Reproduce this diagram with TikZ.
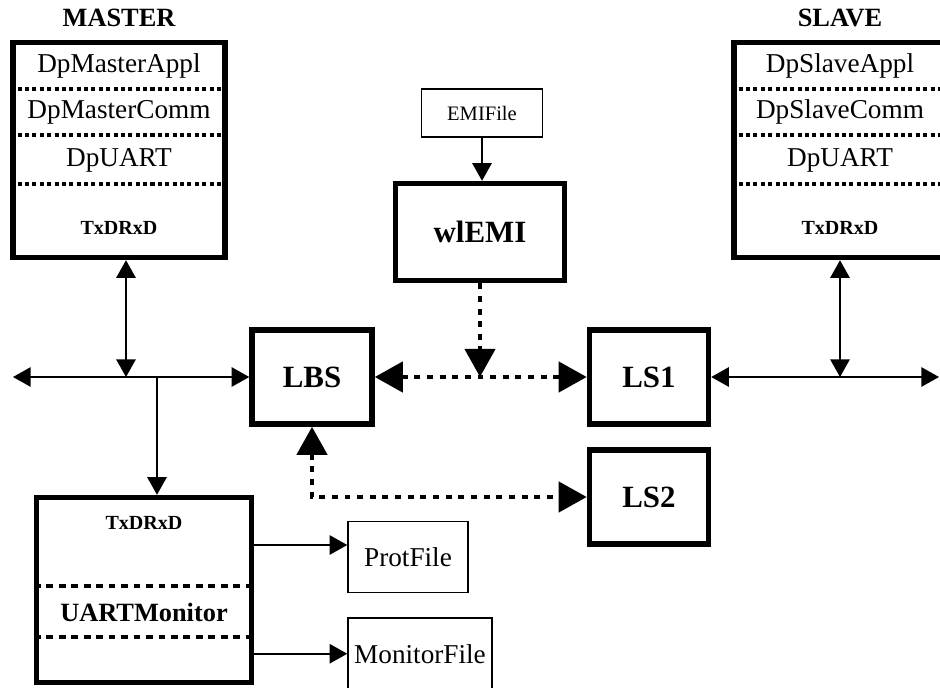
\documentclass[tikz,border=0pt]{standalone}
\usepackage{fontspec}
\setmainfont{Liberation Serif}
\usetikzlibrary{arrows.meta}

\begin{document}
\begin{tikzpicture}[
    x=0.02cm, y=-0.02cm,
    block/.style={draw, line width=3.1pt, inner sep=0pt},
    filebox/.style={draw, line width=0.85pt, inner sep=0pt},
    bigname/.style={font=\fontsize{17.6}{20}\selectfont\bfseries},
    title/.style={font=\fontsize{15}{18}\selectfont\bfseries},
    layer/.style={font=\fontsize{15.5}{18}\selectfont},
    pins/.style={font=\fontsize{11.4}{13}\selectfont\bfseries},
    sep/.style={line width=2.2pt, dash pattern=on 2.3pt off 1.9pt},
    thicksep/.style={line width=2.8pt, dash pattern=on 3.9pt off 3.2pt},
    tip/.style={Triangle[length=10pt, width=11pt]},
    bigtip/.style={Triangle[length=16pt, width=17pt]},
    wire/.style={line width=0.85pt, -{Triangle[length=10pt, width=11pt]}},
    both/.style={line width=0.85pt, {Triangle[length=10pt, width=11pt]}-{Triangle[length=10pt, width=11pt]}},
    link/.style={line width=2.8pt, dash pattern=on 3.4pt off 3.8pt, -{Triangle[length=16pt, width=17pt]}},
    linkboth/.style={line width=2.8pt, dash pattern=on 3.4pt off 3.8pt, {Triangle[length=16pt, width=17pt]}-{Triangle[length=16pt, width=17pt]}}
]
   \useasboundingbox (0,0) rectangle (940,687);

   % Master stack
   \node[title] (mtitle) at (119,18) {MASTER};
   \node[block, minimum width=212*0.02cm, minimum height=215*0.02cm] (mst) at (119,150) {};
   \node[layer] (mappl) at (119,66) {DpMasterAppl};
   \node[layer] (mcomm) at (119,112) {DpMasterComm};
   \node[layer] (muart) at (119,160) {DpUART};
   \node[pins] (mpins) at (119,228) {TxDRxD};
   \foreach \y in {89,135,184}
      \draw[sep] (mst.west |- 0,\y) -- (mst.east |- 0,\y);

   % Slave stack
   \node[title] (stitle) at (840,18) {SLAVE};
   \node[block, minimum width=212*0.02cm, minimum height=215*0.02cm] (slv) at (840,150) {};
   \node[layer] (sappl) at (840,66) {DpSlaveAppl};
   \node[layer] (scomm) at (840,112) {DpSlaveComm};
   \node[layer] (suart) at (840,160) {DpUART};
   \node[pins] (spins) at (840,228) {TxDRxD};
   \foreach \y in {89,135,184}
      \draw[sep] (slv.west |- 0,\y) -- (slv.east |- 0,\y);

   % EMI source
   \node[filebox, minimum width=121*0.02cm, minimum height=48*0.02cm, font=\fontsize{11.7}{14}\selectfont] (emif) at (482,113) {EMIFile};
   \node[block, bigname, minimum width=169*0.02cm, minimum height=97*0.02cm] (wlemi) at (480,232) {wlEMI};

   % Line stations
   \node[block, bigname, minimum width=120*0.02cm, minimum height=94*0.02cm] (lbs) at (312,377) {LBS};
   \node[block, bigname, minimum width=119*0.02cm, minimum height=94*0.02cm] (ls1) at (649,377) {LS1};
   \node[block, bigname, minimum width=119*0.02cm, minimum height=94*0.02cm] (ls2) at (649,497) {LS2};

   % Monitor and its files
   \node[block, minimum width=215*0.02cm, minimum height=185*0.02cm] (mon) at (144,590) {};
   \node[pins] (monpins) at (144,523) {TxDRxD};
   \node[title] (monname) at (144,612) {UARTMonitor};
   \foreach \y in {586,637}
      \draw[thicksep] (mon.west |- 0,\y) -- (mon.east |- 0,\y);
   \node[filebox, layer, minimum width=120*0.02cm, minimum height=71*0.02cm] (pfile) at (408,557) {ProtFile};
   \node[filebox, layer, minimum width=144*0.02cm, minimum height=72*0.02cm, anchor=north] (mfile) at (420,617) {MonitorFile};

   % Bus taps
   \coordinate (mbus) at (13,377);
   \coordinate (mtap) at (126,377);
   \coordinate (mdrop) at (157,377);
   \coordinate (sbus) at (939,377);
   \coordinate (stap) at (840,377);

   % Serial lines
   \draw[both] (mbus) -- (lbs.west);
   \draw[both] (mtap |- mst.south) -- (mtap);
   \draw[wire] (mdrop) -- (mdrop |- mon.north);
   \draw[both] (ls1.east) -- (sbus);
   \draw[both] (stap |- slv.south) -- (stap);

   % Disturbance path
   \draw[wire] (emif.south) -- (emif.south |- wlemi.north);
   \draw[link] (wlemi.south) -- (wlemi.south |- lbs.east);
   \draw[linkboth] (lbs.east) -- (ls1.west);
   \draw[linkboth] (lbs.south) |- (ls2.west);

   % Monitor output
   \draw[wire] (mon.east |- 0,545) -- (pfile.west |- 0,545);
   \draw[wire] (mon.east |- mfile.west) -- (mfile.west);
\end{tikzpicture}
\end{document}
